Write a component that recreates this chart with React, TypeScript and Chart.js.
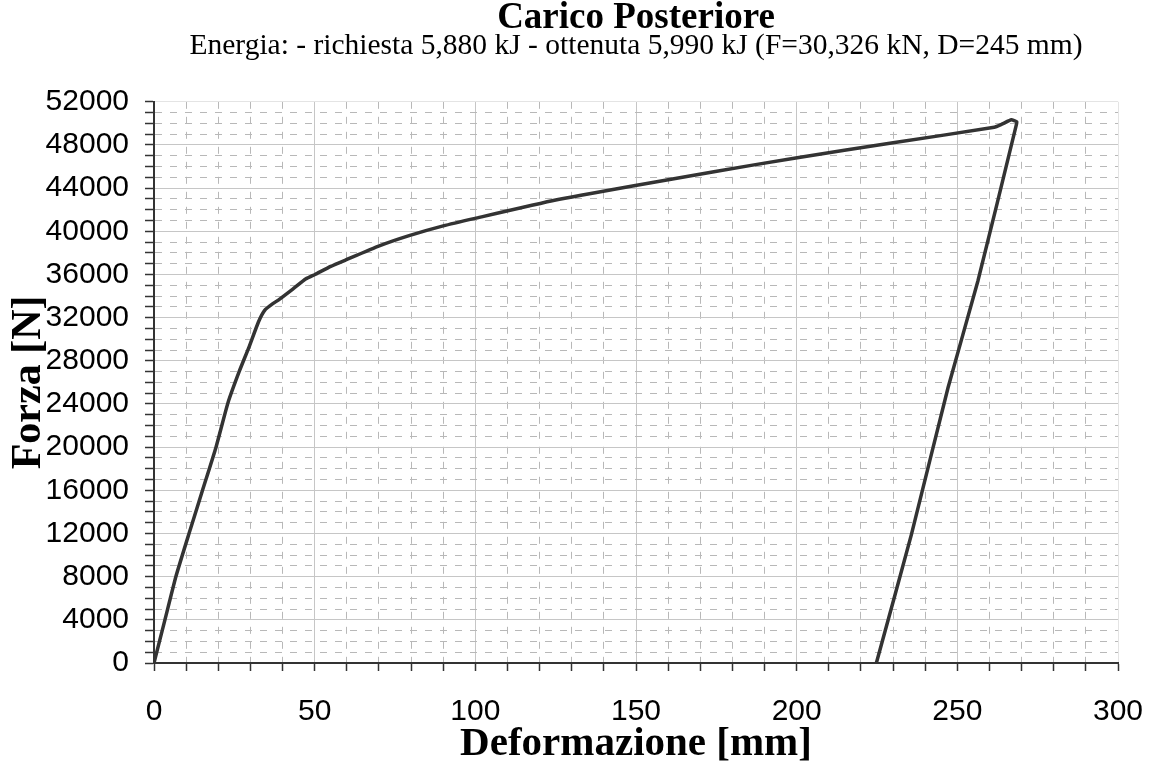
import React, { useEffect, useRef } from 'react';
import { Chart, registerables } from 'chart.js';

Chart.register(...registerables);

// Deformazione [mm] (x) and Forza [N] (y)
const deformazioneMm = [
  0, 3.4, 6.8, 10.9, 15.1, 19.3, 23.0, 26.5, 29.6, 32.5, 34.5, 37.0, 39.0, 43.2, 47.3, 50.1,
  55.0, 59.7, 70.1, 79.4, 90.0, 99.9, 125.0, 149.8, 174.7, 199.7, 230.0, 261.5, 264.0, 266.8,
  268.5, 268.3, 256.4, 247.1, 235.7, 224.8,
];
const forzaN = [
  0, 4000, 8000, 12000, 16000, 20000, 24100, 27000, 29300, 31600, 32700, 33300, 33700, 34650,
  35600, 36000, 36750, 37350, 38650, 39600, 40500, 41200, 42900, 44250, 45550, 46800, 48200,
  49650, 49950, 50330, 50150, 49800, 35400, 25500, 11900, 0,
];

const xMin = 0;
const xMax = 300;
const xMinorStep = 10;
const xMajorStep = 50;
const yMin = 0;
const yMax = 52000;
const yMinorStep = 1000;
const yMajorStep = 4000;

const titleText = 'Carico Posteriore';
const subtitleText = 'Energia: - richiesta 5,880 kJ - ottenuta 5,990 kJ (F=30,326 kN, D=245 mm)';
const xTitle = 'Deformazione [mm]';
const yTitle = 'Forza [N]';

const serif = "'Liberation Serif', 'Times New Roman', serif";
const sans = "'Liberation Sans', Arial, sans-serif";

function gridColor(major: number, max: number) {
  return (ctx: any) => {
    const v = ctx.tick ? ctx.tick.value : 0;
    if (Math.abs(v - max) < 1e-6) return '#e4e4e4';
    if (Math.abs(v % major) < 1e-6) return '#c6c6c6';
    return '#b8b8b8';
  };
}

function gridDash(major: number) {
  return (ctx: any) => {
    if (!ctx.tick) return [];
    const v = ctx.tick.value;
    if (Math.abs(v % major) < 1e-6) return [];
    return [7, 8];
  };
}

export default function App() {
  const canvasRef = useRef<HTMLCanvasElement | null>(null);

  useEffect(() => {
    if (!canvasRef.current) return;
    const points = deformazioneMm.map((x, i) => ({ x, y: forzaN[i] }));
    const chart = new Chart(canvasRef.current, {
      type: 'scatter',
      data: {
        datasets: [
          {
            data: points,
            showLine: true,
            borderColor: '#333333',
            borderWidth: 3.5,
            pointRadius: 0,
            tension: 0.15,
            fill: false,
          },
        ],
      },
      options: {
        responsive: false,
        animation: false,
        layout: { padding: { top: 0, left: 0, right: 33, bottom: 0 } },
        plugins: {
          legend: { display: false },
          tooltip: { enabled: false },
          title: {
            display: true,
            text: titleText,
            color: '#000',
            fullSize: false,
            font: { family: serif, size: 37, weight: 'bold', lineHeight: 0.85 },
            padding: { top: 2.5, bottom: 0 },
          },
          subtitle: {
            display: true,
            text: subtitleText,
            color: '#000',
            fullSize: false,
            font: { family: serif, size: 29.5, lineHeight: 0.86 },
            padding: { top: 0, bottom: 42.5 },
          },
        },
        scales: {
          x: {
            type: 'linear',
            min: xMin,
            max: xMax,
            afterFit: (s: any) => {
              s.height = 106;
              s.paddingLeft = 0;
              s.paddingRight = 0;
            },
            ticks: {
              stepSize: xMinorStep,
              autoSkip: false,
              maxRotation: 0,
              minRotation: 0,
              padding: 23,
              color: '#000',
              font: { family: sans, size: 30 },
              callback: (v: any) => (Math.abs(Number(v) % xMajorStep) < 1e-6 ? String(v) : ''),
            },
            grid: {
              color: gridColor(xMajorStep, xMax),
              lineWidth: 1,
              drawTicks: true,
              tickLength: 8,
              tickColor: '#333',
              tickWidth: 1.5,
              tickBorderDash: [],
            },
            border: { display: true, color: '#333', width: 2, dash: gridDash(xMajorStep) },
            title: {
              display: true,
              text: xTitle,
              color: '#000',
              font: { family: serif, size: 41, weight: 'bold', lineHeight: 1.2 },
              padding: { top: 0, bottom: 0 },
            },
          },
          y: {
            type: 'linear',
            min: yMin,
            max: yMax,
            afterFit: (s: any) => {
              s.width = 154;
            },
            ticks: {
              stepSize: yMinorStep,
              autoSkip: false,
              padding: 16,
              color: '#000',
              font: { family: sans, size: 30 },
              callback: (v: any) => (Math.abs(Number(v) % yMajorStep) < 1e-6 ? String(v) : ''),
            },
            grid: {
              color: gridColor(yMajorStep, yMax),
              lineWidth: 1,
              drawTicks: true,
              tickLength: 9,
              tickColor: '#333',
              tickWidth: 1.5,
              tickBorderDash: [],
            },
            border: { display: true, color: '#333', width: 2, dash: gridDash(yMajorStep) },
            title: {
              display: true,
              text: yTitle,
              color: '#000',
              font: { family: serif, size: 42, weight: 'bold', lineHeight: 1.2 },
              padding: { top: 4, bottom: 0 },
            },
          },
        },
      } as any,
    });
    return () => chart.destroy();
  }, []);

  return (
    <div style={{ position: 'fixed', left: 0, top: 0, width: 1151, height: 769, background: '#fff' }}>
      <canvas ref={canvasRef} width={1151} height={769} style={{ display: 'block' }} />
    </div>
  );
}
